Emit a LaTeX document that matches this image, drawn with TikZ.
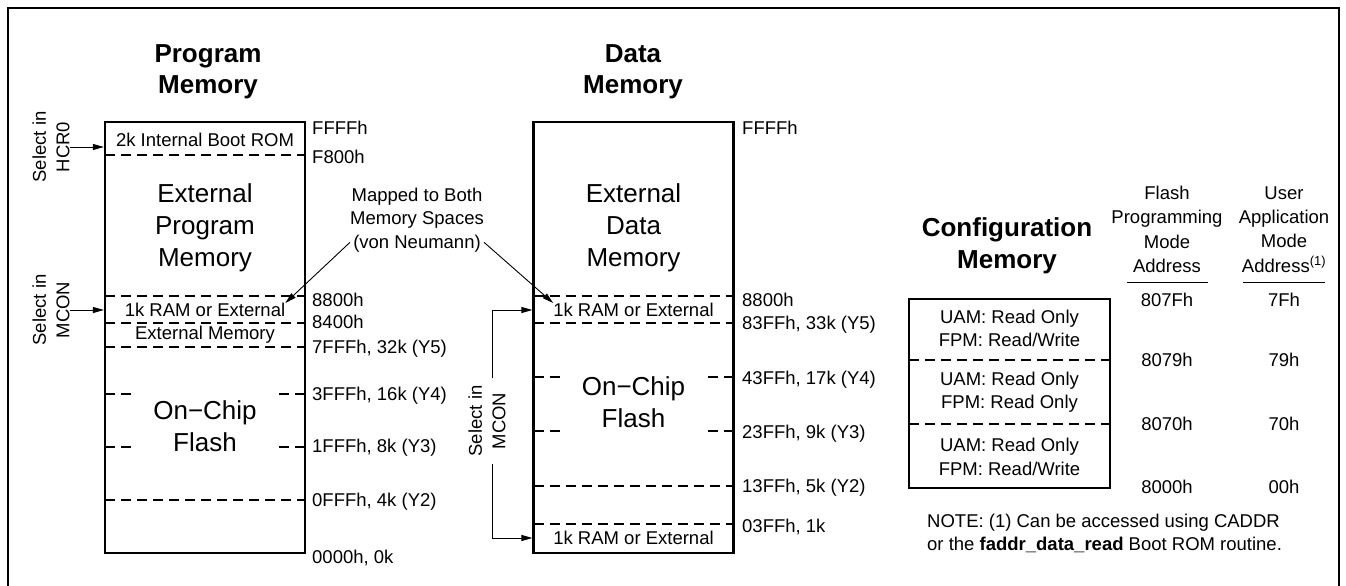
\documentclass[tikz,border=0pt]{standalone}
\usepackage{fontspec}
\setmainfont{Liberation Sans}
\usetikzlibrary{arrows.meta,positioning,calc}
\newcommand{\smallfs}{\fontsize{18.5}{23.5}\selectfont}
\newcommand{\bigfs}{\fontsize{26}{32}\selectfont}
\newcommand{\titlefs}{\fontsize{26}{31}\selectfont\bfseries}

\begin{document}
\begin{tikzpicture}[x=1pt,y=-1pt,
  membox/.style={draw,line width=2.2pt,minimum width=200pt,minimum height=431pt,inner sep=0pt},
  divider/.style={line width=1.8pt,dash pattern=on 10pt off 6pt},
  addr/.style={anchor=west,font=\smallfs,inner sep=0pt,text height=13pt,text depth=0pt},
  region/.style={font=\bigfs,align=center,inner sep=0pt},
  small/.style={font=\smallfs,align=center,inner sep=0pt},
  heading/.style={font=\titlefs,align=center,inner sep=0pt},
  sel/.style={font=\smallfs,align=center,rotate=90,inner sep=0pt},
  arr/.style={-{Triangle[length=11pt,width=6pt]},line width=0.9pt}
]
\useasboundingbox (0,0) rectangle (1346,586);
\draw[line width=2pt] (8,586) -- (8,8) -- (1339,8) -- (1339,586);

% program memory
\node[heading] (ptitle) at (208,72) {Program\\Memory};
\node[membox] (pm) at (205,337.5) {};
\foreach \y in {155,296,323,347,500}
  \draw[divider] (105,\y) -- (305,\y);
\foreach \y in {394,447} {
  \draw[divider] (105,\y) -- +(26,0);
  \draw[divider] (305,\y) -- +(-26,0);
}
\node[small] (pboot) at (205,140) {2k Internal Boot ROM};
\node[region] (pext) at (205,228) {External\\Program\\Memory};
\node[small] (pram) at (205,310) {1k RAM or External};
\node[small] (pextmem) at (205,335) {External Memory};
\node[region] (pflash) at (205,426) {On−Chip\\Flash};
\foreach \y/\t in {128/FFFFh,157/F800h,300/8800h,322/8400h,
    347/{7FFFh, 32k (Y5)},394/{3FFFh, 16k (Y4)},446/{1FFFh, 8k (Y3)},
    500/{0FFFh, 4k (Y2)},557/{0000h, 0k}}
  \node[addr] (pa\y) at (312,\y) {\t};

\node[sel] (hcr) at (51,147) {Select in\\HCR0};
\draw[arr] (hcr.south) -- (hcr.south -| pm.west);
\node[sel] (mconl) at (51,310) {Select in\\MCON};
\draw[arr] (mconl.south) -- (mconl.south -| pm.west);

% data memory
\node[heading] (dtitle) at (633,72) {Data\\Memory};
\node[membox] (dm) at (633.5,337.5) {};
\foreach \y in {296,323,486,524}
  \draw[divider] (533.5,\y) -- (733.5,\y);
\foreach \y in {377,431} {
  \draw[divider] (533.5,\y) -- +(26,0);
  \draw[divider] (733.5,\y) -- +(-26,0);
}
\node[region] (dext) at (633.5,228) {External\\Data\\Memory};
\node[small] (dram) at (633.5,310) {1k RAM or External};
\node[region] (dflash) at (633.5,402) {On−Chip\\Flash};
\node[small] (dramlow) at (633.5,538) {1k RAM or External};
\foreach \y/\t in {128/FFFFh,300/8800h,323/{83FFh, 33k (Y5)},
    378/{43FFh, 17k (Y4)},432/{23FFh, 9k (Y3)},486/{13FFh, 5k (Y2)},
    526/{03FFh, 1k}}
  \node[addr] (da\y) at (742,\y) {\t};

\node[sel,inner sep=7pt] (mconr) at (487,421) {Select in\\MCON};
\draw[arr] ([xshift=5pt]mconr.east) |- (dm.west |- dram);
\draw[arr] ([xshift=5pt]mconr.west) |- (dm.west |- dramlow);

\node[small] (mapped) at (417,220) {Mapped to Both\\Memory Spaces\\(von Neumann)};
\draw[arr] ([yshift=10pt]mapped.south west) -- (pram.north east);
\draw[arr] ([yshift=10pt]mapped.south east) -- (dram.north west);

% configuration memory
\node[heading,font=\fontsize{26}{32}\selectfont\bfseries] (ctitle) at (1007,246) {Configuration\\Memory};
\node[draw,line width=2.2pt,minimum width=201pt,minimum height=189pt] (cfg) at (1009.5,393.5) {};
\foreach \y in {360,424}
  \draw[divider] (909,\y) -- (1110,\y);
\node[small] (crow1) at (1009.5,328.5) {UAM: Read Only\\FPM: Read/Write};
\node[small] (crow2) at (1009.5,392) {UAM: Read Only\\FPM: Read Only};
\node[small] (crow3) at (1009.5,457) {UAM: Read Only\\FPM: Read/Write};

\node[small,font=\fontsize{18.5}{24.3}\selectfont] (fpm) at (1167,229.5) {Flash\\Programming\\Mode\\Address};
\node[small,font=\fontsize{18.5}{24.3}\selectfont] (uam) at (1284,229.5) {User\\Application\\Mode\\Address\textsuperscript{(1)}};
\draw[line width=1pt] (1127,282) -- (1208,282);
\draw[line width=1pt] (1243,282) -- (1325,282);
\foreach \y/\f/\u in {300/807Fh/7Fh,360/8079h/79h,424/8070h/70h,487/8000h/00h} {
  \node[small] (fa\y) at (1167,\y) {\f};
  \node[small] (ua\y) at (1284,\y) {\u};
}
\node[anchor=west,font=\smallfs,align=left,inner sep=0pt] (note) at (927,533.5)
  {NOTE: (1) Can be accessed using CADDR\\or the \textbf{faddr\_data\_read} Boot ROM routine.};
\end{tikzpicture}
\end{document}
